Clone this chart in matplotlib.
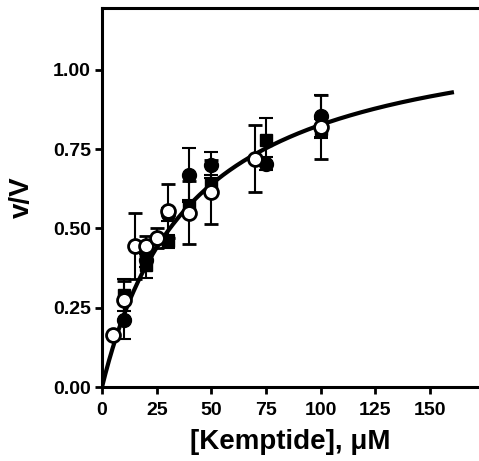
import numpy as np
import matplotlib
matplotlib.use("Agg")
import matplotlib.pyplot as plt

plt.rcParams['font.family'] = ['Liberation Sans', 'DejaVu Sans']
plt.rcParams['font.weight'] = 'bold'

# Open circles
x_open = [5, 10, 15, 20, 25, 30, 40, 50, 70, 100]
y_open = [0.165, 0.275, 0.445, 0.445, 0.47, 0.555, 0.55, 0.615, 0.72, 0.82]
e_open = [0.0, 0.06, 0.105, 0.03, 0.03, 0.085, 0.10, 0.10, 0.105, 0.10]

# Filled circles
x_fc = [10, 20, 30, 40, 50, 75, 100]
y_fc = [0.21, 0.40, 0.545, 0.67, 0.70, 0.705, 0.855]
e_fc = [0.06, 0.02, 0.02, 0.085, 0.04, 0.02, 0.065]

# Filled squares
x_sq = [10, 20, 30, 40, 50, 75, 100]
y_sq = [0.29, 0.385, 0.46, 0.57, 0.64, 0.78, 0.815]
e_sq = [0.05, 0.04, 0.02, 0.02, 0.03, 0.07, 0.03]

# Michaelis-Menten fit parameters
Vmax = 1.17
Km = 41.5
x_fit_max = 160

fig = plt.figure(figsize=(4.79, 4.61), dpi=100)
ax = fig.add_axes([0.213, 0.1605, 0.787, 0.8225])

xf = np.linspace(0, x_fit_max, 400)
ax.plot(xf, Vmax * xf / (Km + xf), color='black', lw=3, zorder=2)

ekw = dict(ecolor='black', elinewidth=1.5, capsize=5, capthick=1.5, ls='none')
ax.errorbar(x_sq, y_sq, yerr=e_sq, marker='s', ms=9, mfc='black', mec='black', zorder=3, **ekw)
ax.errorbar(x_fc, y_fc, yerr=e_fc, marker='o', ms=10, mfc='black', mec='black', zorder=3, **ekw)
ax.errorbar(x_open, y_open, yerr=e_open, marker='o', ms=10, mfc='white', mec='black', mew=2, zorder=4, **ekw)

ax.set_xlim(0, 172.4)
ax.set_ylim(0, 1.196)
ax.set_xticks([0, 25, 50, 75, 100, 125, 150])
ax.set_yticks([0, 0.25, 0.5, 0.75, 1.0])
ax.set_yticklabels(['0.00', '0.25', '0.50', '0.75', '1.00'])
ax.spines['right'].set_visible(False)
for s in ['left', 'bottom', 'top']:
    ax.spines[s].set_linewidth(2.2)
ax.tick_params(width=2, length=5, labelsize=14)
ax.tick_params(axis='x', pad=6)
ax.tick_params(axis='y', pad=3)
for lab in ax.get_xticklabels() + ax.get_yticklabels():
    lab.set_fontweight('bold')

ax.set_xlabel('[Kemptide], μM', fontsize=20, fontweight='bold', labelpad=7)
ax.set_ylabel('v/V', fontsize=20, fontweight='bold', labelpad=13)

fig.savefig('out.png', dpi=100)
